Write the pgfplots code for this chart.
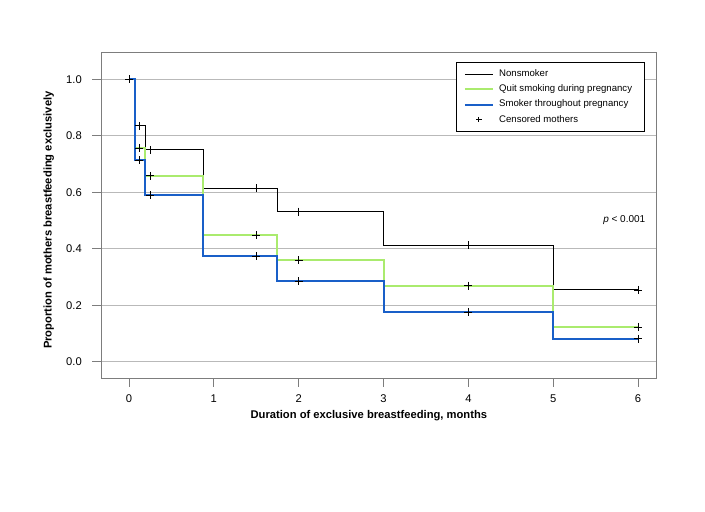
\documentclass[border=0pt]{standalone}
\usepackage{fontspec}
\setmainfont{Liberation Sans}
\usepackage{pgfplots}
\pgfplotsset{compat=1.18}
\definecolor{ngreen}{RGB}{170,235,110}
\definecolor{nblue}{RGB}{25,95,200}
\definecolor{framegray}{RGB}{125,125,125}
\definecolor{gridgray}{RGB}{185,185,185}
\pgfplotsset{
  lineleg/.style={legend image code/.code={\draw[##1] (0pt,0pt) -- (21pt,0pt);}},
  censleg/.style={legend image code/.code={\draw[##1,mark size=2pt] plot coordinates {(10.5pt,0pt)};}},
}
\begin{document}
\begin{tikzpicture}
\useasboundingbox (0pt,0pt) rectangle (528.75pt,383.25pt);
\begin{axis}[
  at={(75.75pt,99.5pt)}, anchor=south west,
  scale only axis, width=416.8pt, height=244.2pt,
  xmin=-0.33, xmax=6.22, ymin=-0.059, ymax=1.094,
  font=\fontsize{8.4}{10}\selectfont,
  /pgf/number format/assume math mode=true,
  axis line style={framegray, line width=0.7pt},
  tick style={framegray, line width=0.7pt},
  tick align=outside, tick pos=left,
  major tick length=6.4pt,
  xtick={0,1,2,3,4,5,6},
  ytick={0,0.2,0.4,0.6,0.8,1.0},
  yticklabel style={xshift=-4.5pt, /pgf/number format/.cd, fixed, fixed zerofill, precision=1},
  xticklabel style={yshift=-2.5pt},
  ymajorgrids, grid style={gridgray, line width=0.8pt},
  xlabel={\bfseries Duration of exclusive breastfeeding, months},
  ylabel={\bfseries Proportion of mothers breastfeeding exclusively},
  xlabel style={at={(axis description cs:0.482,-0.116)}, anchor=center},
  ylabel style={at={(axis description cs:-0.094,0.486)}, anchor=center},
  legend style={at={(rel axis cs:0.979,0.971)}, anchor=north east, draw=black, line width=0.5pt,
    font=\fontsize{7.2}{8.6}\selectfont, row sep=0.6pt, inner xsep=5.5pt, inner ysep=3.5pt,
    cells={anchor=west}, nodes={inner xsep=4pt}},
]
\addplot[const plot, black, line width=0.75pt, lineleg] coordinates {
 (0,1) (0.07,0.835) (0.19,0.75) (0.875,0.615) (1.75,0.531) (3,0.413) (5,0.254) (6,0.254)};
\addlegendentry{Nonsmoker}
\addplot[const plot, ngreen, line width=1.5pt, lineleg] coordinates {
 (0,1) (0.07,0.757) (0.19,0.658) (0.875,0.447) (1.75,0.360) (3,0.269) (5,0.123) (6,0.123)};
\addlegendentry{Quit smoking during pregnancy}
\addplot[const plot, nblue, line width=1.5pt, lineleg] coordinates {
 (0,1) (0.07,0.714) (0.19,0.590) (0.875,0.374) (1.75,0.285) (3,0.176) (5,0.081) (6,0.081)};
\addlegendentry{Smoker throughout pregnancy}
\addplot[only marks, mark=+, mark size=3pt, black, mark options={line width=0.6pt}, censleg] coordinates {
 (0,1)
 (0.12,0.835) (0.25,0.75) (1.5,0.615) (2,0.531) (4,0.413) (6,0.254)
 (0.12,0.757) (0.25,0.658) (1.5,0.447) (2,0.360) (4,0.269) (6,0.123)
 (0.12,0.714) (0.25,0.590) (1.5,0.374) (2,0.285) (4,0.176) (6,0.081)};
\addlegendentry{Censored mothers}
\node[anchor=east, font=\fontsize{7.5}{9}\selectfont] at (axis cs:6.14,0.502) {\textit{p} < 0.001};
\end{axis}
\end{tikzpicture}
\end{document}
